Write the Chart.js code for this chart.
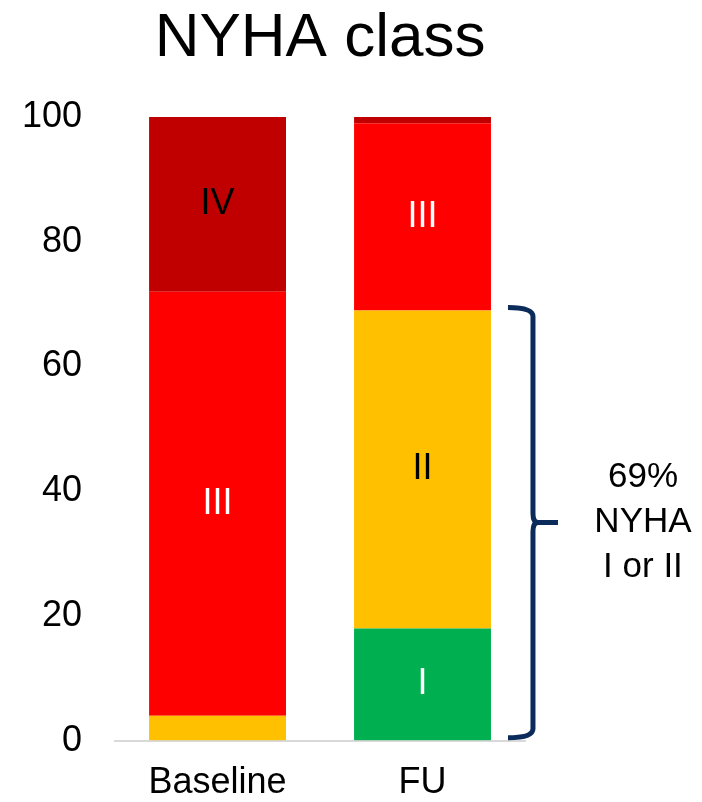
<!DOCTYPE html>
<html>
<head>
<meta charset="utf-8">
<script src="https://cdn.jsdelivr.net/npm/chart.js@4.4.1/dist/chart.umd.min.js"></script>
<style>
  html, body { margin: 0; padding: 0; background: #fff; }
  #wrap { width: 702px; height: 802px; position: relative; }
</style>
</head>
<body>
<div id="wrap"><canvas id="nyha"></canvas></div>
<script>
// valeurs (% patients)
const categories = ['Baseline', 'FU'];
const classI = [0, 18];
const classII = [4, 51];
const classIII = [68, 30];
const classIV = [28, 1];
const yTicks = [0, 20, 40, 60, 80, 100];
const bracketLines = ['69%', 'NYHA', 'I or II'];

const FONT = "'Liberation Sans', Arial, sans-serif";

// étiquettes dans les segments (I, II, III, IV)
const segmentLabels = {
  id: 'segmentLabels',
  afterDatasetsDraw(chart) {
    const ctx = chart.ctx;
    ctx.save();
    ctx.font = '36px ' + FONT;
    ctx.textAlign = 'center';
    ctx.textBaseline = 'middle';
    chart.data.datasets.forEach((ds, i) => {
      const meta = chart.getDatasetMeta(i);
      meta.data.forEach((bar, j) => {
        if (ds.data[j] < 10) return;
        const p = bar.getProps(['x', 'y', 'base'], true);
        ctx.fillStyle = ds.labelColor;
        ctx.fillText(ds.label, p.x, (p.y + p.base) / 2);
      });
    });
    ctx.restore();
  }
};

// accolade à droite de FU : classes I + II
const bracket = {
  id: 'bracket',
  afterDatasetsDraw(chart) {
    const ctx = chart.ctx;
    const y = chart.scales.y;
    const bar = chart.getDatasetMeta(0).data[1];
    const right = bar.x + bar.width / 2;
    const top = y.getPixelForValue(classI[1] + classII[1]) - 3;
    const bottom = y.getPixelForValue(0) - 3;
    const mid = (top + bottom) / 2;
    const x0 = right + 17, x1 = right + 42, x2 = right + 67, r = 9;

    ctx.save();
    ctx.strokeStyle = '#0b2b5b';
    ctx.lineWidth = 5;
    ctx.lineCap = 'butt';
    ctx.beginPath();
    ctx.moveTo(x0, top);
    ctx.quadraticCurveTo(x1, top, x1, top + r);
    ctx.lineTo(x1, mid - r);
    ctx.quadraticCurveTo(x1, mid, x2 - 20, mid);
    ctx.lineTo(x2, mid);
    ctx.moveTo(x2 - 20, mid);
    ctx.quadraticCurveTo(x1, mid, x1, mid + r);
    ctx.lineTo(x1, bottom - r);
    ctx.quadraticCurveTo(x1, bottom, x0, bottom);
    ctx.stroke();

    ctx.fillStyle = '#000';
    ctx.font = '35px ' + FONT;
    ctx.textAlign = 'center';
    ctx.textBaseline = 'middle';
    bracketLines.forEach((t, k) => {
      ctx.fillText(t, x2 + 85, mid + (k - 1) * 45);
    });
    ctx.restore();
  }
};

new Chart(document.getElementById('nyha'), {
  type: 'bar',
  data: {
    labels: categories,
    datasets: [
      { label: 'I', data: classI, backgroundColor: '#00b050', labelColor: '#fff' },
      { label: 'II', data: classII, backgroundColor: '#ffc000', labelColor: '#000' },
      { label: 'III', data: classIII, backgroundColor: '#ff0000', labelColor: '#fff' },
      { label: 'IV', data: classIV, backgroundColor: '#c00000', labelColor: '#000' }
    ]
  },
  options: {
    responsive: true,
    maintainAspectRatio: false,
    animation: false,
    datasets: {
      bar: { barPercentage: 1, categoryPercentage: 0.668, borderWidth: 0 }
    },
    layout: { padding: { left: 22, right: 177, top: 0, bottom: -3 } },
    plugins: {
      legend: { display: false },
      tooltip: { enabled: false },
      title: {
        display: true,
        text: 'NYHA class',
        color: '#000',
        fullSize: false,
        font: { family: FONT, size: 62, weight: 'normal', lineHeight: 1.2 },
        padding: { top: 2, bottom: 40.6 }
      }
    },
    scales: {
      x: {
        stacked: true,
        // tickLength sert d'espacement (padding est compté deux fois dans fit)
        grid: { display: true, color: 'rgba(0,0,0,0)', drawTicks: true, tickLength: 21 },
        border: { display: true, color: '#d9d9d9', width: 2 },
        ticks: { color: '#000', padding: 0, font: { family: FONT, size: 36 } }
      },
      y: {
        stacked: true,
        min: 0,
        max: 100,
        grid: { display: true, color: 'rgba(0,0,0,0)', drawTicks: true, tickLength: 33 },
        border: { display: false },
        afterBuildTicks(scale) {
          scale.ticks = yTicks.map(v => ({ value: v }));
        },
        ticks: { color: '#000', padding: 0, font: { family: FONT, size: 36 } }
      }
    }
  },
  plugins: [segmentLabels, bracket]
});
</script>
</body>
</html>
